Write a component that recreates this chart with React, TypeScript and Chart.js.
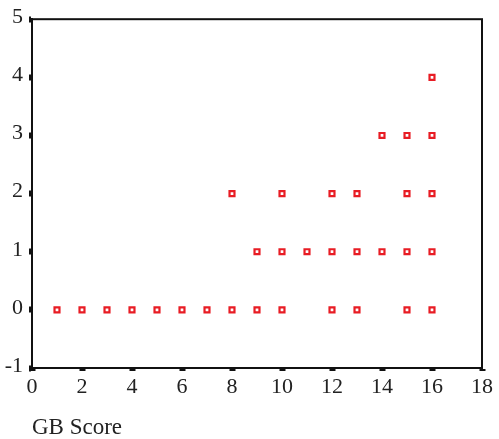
import React, { useEffect, useRef } from "react";
import { Chart, registerables } from "chart.js";

Chart.register(...registerables);

const gbScore = [1, 2, 3, 4, 5, 6, 7, 8, 9, 10, 12, 13, 15, 16, 9, 10, 11, 12, 13, 14, 15, 16, 8, 10, 12, 13, 15, 16, 14, 15, 16, 16];
const outcome = [0, 0, 0, 0, 0, 0, 0, 0, 0, 0, 0, 0, 0, 0, 1, 1, 1, 1, 1, 1, 1, 1, 2, 2, 2, 2, 2, 2, 3, 3, 3, 4];
const xTicks = [0, 2, 4, 6, 8, 10, 12, 14, 16, 18];
const yTicks = [-1, 0, 1, 2, 3, 4, 5];
const xTitle = "GB Score";

const RED = "rgb(232,28,36)";
const FONT = "'Liberation Serif', 'Times New Roman', serif";

const boxPlugin = {
  id: "box",
  afterDraw(chart: any) {
    const { ctx, chartArea } = chart;
    ctx.save();
    ctx.strokeStyle = "#111";
    ctx.lineWidth = 2;
    ctx.strokeRect(chartArea.left, chartArea.top, chartArea.right - chartArea.left, chartArea.bottom - chartArea.top);
    ctx.restore();
  },
};

export default function App() {
  const ref = useRef<HTMLCanvasElement>(null);
  useEffect(() => {
    document.body.style.margin = "0";
    const points = gbScore.map((x, i) => ({ x, y: outcome[i] }));
    const chart = new Chart(ref.current!, {
      type: "scatter",
      data: {
        datasets: [
          {
            data: points,
            pointStyle: "rect",
            pointRadius: 3.5,
            pointBorderWidth: 2.2,
            pointBorderColor: RED,
            pointBackgroundColor: "#fff",
          },
        ],
      },
      plugins: [boxPlugin],
      options: {
        animation: false,
        responsive: false,
        devicePixelRatio: 1,
        layout: { padding: { top: 18, right: 17, left: 0, bottom: 0 } },
        plugins: { legend: { display: false }, tooltip: { enabled: false } },
        scales: {
          x: {
            type: "linear",
            min: 0,
            max: 18,
            afterBuildTicks: (s: any) => {
              s.ticks = xTicks.map((v) => ({ value: v }));
            },
            afterFit: (s: any) => {
              s.height = 71;
            },
            grid: {
              drawOnChartArea: false,
              tickLength: 3,
              tickWidth: 6,
              tickColor: "#111",
            },
            border: { color: "#111", width: 2 },
            ticks: {
              color: "#222",
              padding: 3,
              font: { family: FONT, size: 22 },
            },
            title: {
              display: true,
              text: xTitle,
              align: "start",
              color: "#222",
              font: { family: FONT, size: 23 },
              padding: { top: 17, bottom: -3 },
            },
          },
          y: {
            type: "linear",
            min: -1,
            max: 5,
            afterBuildTicks: (s: any) => {
              s.ticks = yTicks.map((v) => ({ value: v }));
            },
            afterFit: (s: any) => {
              s.width = 32;
            },
            grid: {
              drawOnChartArea: false,
              tickLength: 3,
              tickWidth: 6,
              tickColor: "#111",
            },
            border: { color: "#111", width: 2 },
            ticks: {
              color: "#222",
              padding: 6,
              labelOffset: -2,
              font: { family: FONT, size: 22 },
            },
          },
        },
      },
    });
    return () => chart.destroy();
  }, []);
  return <canvas ref={ref} width={499} height={439} style={{ display: "block" }} />;
}
